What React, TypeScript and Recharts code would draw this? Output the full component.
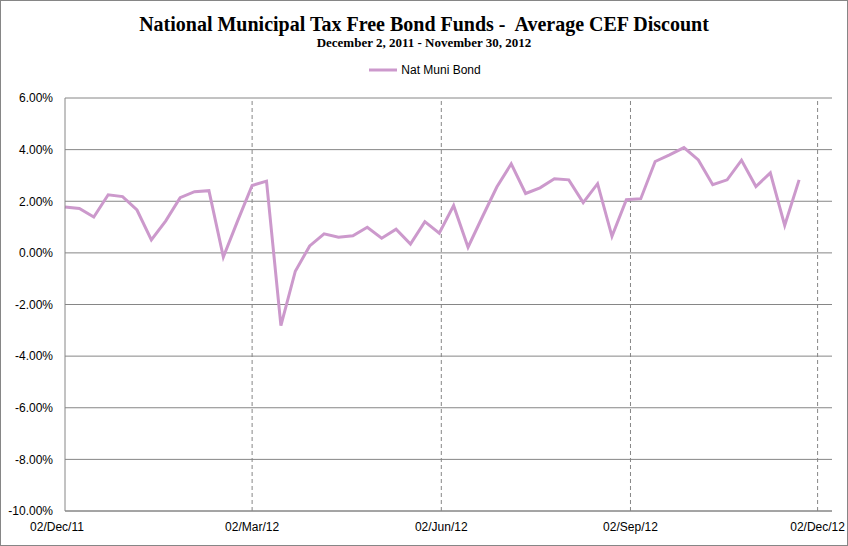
import { CartesianGrid, Legend, Line, LineChart, ReferenceLine, XAxis, YAxis } from 'recharts'

if (typeof document !== 'undefined') document.body.style.margin = '0'

// weekly observations
const dates = [
  '2011-12-02', '2011-12-09', '2011-12-16', '2011-12-23', '2011-12-30',
  '2012-01-06', '2012-01-13', '2012-01-20', '2012-01-27',
  '2012-02-03', '2012-02-10', '2012-02-17', '2012-02-24',
  '2012-03-02', '2012-03-09', '2012-03-16', '2012-03-23', '2012-03-30',
  '2012-04-06', '2012-04-13', '2012-04-20', '2012-04-27',
  '2012-05-04', '2012-05-11', '2012-05-18', '2012-05-25',
  '2012-06-01', '2012-06-08', '2012-06-15', '2012-06-22', '2012-06-29',
  '2012-07-06', '2012-07-13', '2012-07-20', '2012-07-27',
  '2012-08-03', '2012-08-10', '2012-08-17', '2012-08-24', '2012-08-31',
  '2012-09-07', '2012-09-14', '2012-09-21', '2012-09-28',
  '2012-10-05', '2012-10-12', '2012-10-19', '2012-10-26',
  '2012-11-02', '2012-11-09', '2012-11-16', '2012-11-23',
]

const natMuniBond = [
  1.78, 1.72, 1.39, 2.25, 2.18, 1.66, 0.5, 1.24, 2.14, 2.37, 2.41, -0.16, 1.25,
  2.61, 2.78, -2.82, -0.71, 0.27, 0.74, 0.61, 0.66, 0.99, 0.57, 0.92, 0.34, 1.21,
  0.76, 1.83, 0.22, 1.4, 2.55, 3.45, 2.3, 2.52, 2.87, 2.83, 1.95, 2.68, 0.64, 2.06,
  2.1, 3.54, 3.8, 4.08, 3.6, 2.64, 2.83, 3.59, 2.57, 3.1, 1.06, 2.83,
]

const xTicks = ['2011-12-02', '2012-03-02', '2012-06-02', '2012-09-02', '2012-12-02']
const xDomain = ['2011-12-02', '2012-12-09']
const yTicks = [-10, -8, -6, -4, -2, 0, 2, 4, 6]

const MONTHS = ['Jan', 'Feb', 'Mar', 'Apr', 'May', 'Jun', 'Jul', 'Aug', 'Sep', 'Oct', 'Nov', 'Dec']

const toTime = (s: string) => {
  const [y, m, d] = s.split('-').map(Number)
  return Date.UTC(y, m - 1, d)
}

const fmtDate = (t: number) => {
  const d = new Date(t)
  const dd = String(d.getUTCDate()).padStart(2, '0')
  const yy = String(d.getUTCFullYear()).slice(2)
  return `${dd}/${MONTHS[d.getUTCMonth()]}/${yy}`
}

const data = dates.map((d, i) => ({ t: toTime(d), value: natMuniBond[i] }))

const GRID = '#868686'
const LINE = '#cc99cc'
const FONT = '"Liberation Sans", Arial, sans-serif'

const XTick = (props: any) => {
  const { x, y, payload, index } = props
  return (
    <text
      x={index === 0 ? x - 8 : x}
      y={y}
      dy={12}
      textAnchor="middle"
      fill="#000"
      fontSize={12}
      fontFamily={FONT}
    >
      {fmtDate(payload.value)}
    </text>
  )
}

const LegendContent = (props: any) => {
  const item = (props.payload || [])[0]
  return (
    <div style={{ display: 'flex', justifyContent: 'center', alignItems: 'center' }}>
      <svg width={32} height={10} style={{ marginRight: 2 }}>
        <line x1={2} y1={5} x2={30} y2={5} stroke={item?.color || LINE} strokeWidth={3} />
      </svg>
      <span style={{ fontFamily: FONT, fontSize: 12, color: '#000' }}>{item?.value}</span>
    </div>
  )
}

export default function App() {
  return (
    <div
      style={{
        position: 'relative',
        width: 848,
        height: 546,
        boxSizing: 'border-box',
        border: `1px solid ${GRID}`,
        overflow: 'hidden',
        background: '#fff',
      }}
    >
      <div
        style={{
          position: 'absolute',
          top: 11,
          left: 0,
          width: 846,
          textAlign: 'center',
          fontFamily: '"Liberation Serif", "Times New Roman", serif',
          fontWeight: 'bold',
          color: '#000',
        }}
      >
        <div style={{ fontSize: 20, lineHeight: '24px', whiteSpace: 'pre' }}>
          {'National Municipal Tax Free Bond Funds -  Average CEF Discount'}
        </div>
        <div style={{ fontSize: 13, lineHeight: '14px' }}>December 2, 2011 - November 30, 2012</div>
      </div>
      <LineChart
        width={846}
        height={544}
        data={data}
        margin={{ top: 97, right: 15, bottom: 4, left: 0 }}
        style={{ position: 'absolute', top: 0, left: 0 }}
      >
        <CartesianGrid horizontal vertical={false} stroke={GRID} />
        {xTicks.slice(1).map((d) => (
          <ReferenceLine key={d} x={toTime(d)} stroke={GRID} strokeDasharray="4 3" />
        ))}
        <XAxis
          dataKey="t"
          type="number"
          domain={xDomain.map(toTime)}
          ticks={xTicks.map(toTime)}
          tick={<XTick />}
          height={30}
          tickLine={false}
          tickSize={0}
          tickMargin={8}
          axisLine={{ stroke: GRID }}
          interval={0}
        />
        <YAxis
          type="number"
          domain={[-10, 6]}
          ticks={yTicks}
          width={64}
          tickFormatter={(v: number) => `${v.toFixed(2)}%`}
          tick={{ fill: '#000', fontSize: 12, fontFamily: FONT }}
          tickLine={false}
          tickSize={0}
          tickMargin={12}
          axisLine={{ stroke: GRID }}
          interval={0}
        />
        <Legend
          verticalAlign="middle"
          align="center"
          content={<LegendContent />}
          wrapperStyle={{ top: 62, left: 0, width: 846 }}
        />
        <Line
          type="linear"
          dataKey="value"
          name="Nat Muni Bond"
          stroke={LINE}
          strokeWidth={3}
          dot={false}
          activeDot={false}
          isAnimationActive={false}
        />
      </LineChart>
    </div>
  )
}
